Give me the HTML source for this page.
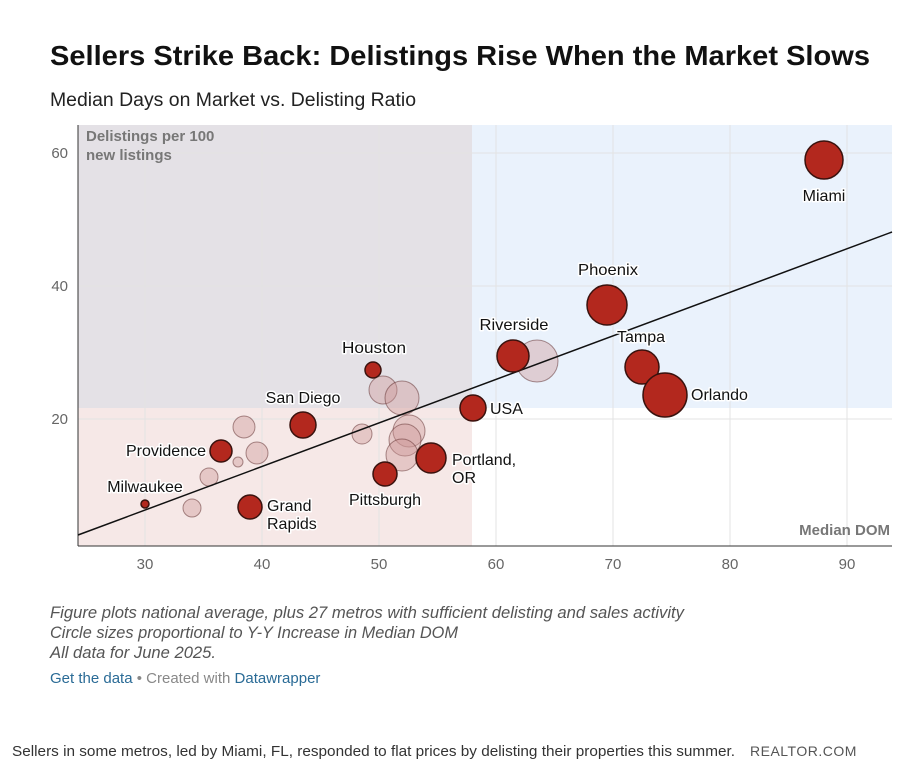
<!DOCTYPE html>
<html><head><meta charset="utf-8"><style>
body{margin:0;background:#fff;width:899px;height:762px;overflow:hidden;font-family:"Liberation Sans",sans-serif;}
</style></head><body>
<svg width="899" height="762" xmlns="http://www.w3.org/2000/svg" font-family="Liberation Sans, sans-serif">
<text x="50" y="65" font-size="28" font-weight="bold" fill="#111" textLength="820" lengthAdjust="spacingAndGlyphs">Sellers Strike Back: Delistings Rise When the Market Slows</text>
<text x="50" y="106" font-size="19" fill="#222" textLength="366" lengthAdjust="spacingAndGlyphs">Median Days on Market vs. Delisting Ratio</text>
<rect x="78" y="125" width="394" height="283" fill="#e4e1e6"/>
<rect x="472" y="125" width="420" height="283" fill="#eaf2fc"/>
<rect x="78" y="408" width="394" height="138" fill="#f6e8e7"/>
<g stroke="#e3e3e3" stroke-width="1">
<line x1="145" y1="125" x2="145" y2="546"/><line x1="262" y1="125" x2="262" y2="546"/><line x1="379" y1="125" x2="379" y2="546"/><line x1="496" y1="125" x2="496" y2="546"/><line x1="613" y1="125" x2="613" y2="546"/><line x1="730" y1="125" x2="730" y2="546"/><line x1="847" y1="125" x2="847" y2="546"/>
<line x1="78" y1="153" x2="892" y2="153"/><line x1="78" y1="286" x2="892" y2="286"/><line x1="78" y1="419" x2="892" y2="419"/>
</g>
<line x1="78" y1="125" x2="78" y2="546" stroke="#333"/>
<line x1="78" y1="546" x2="892" y2="546" stroke="#333"/>
<g font-size="15" fill="#666" text-anchor="end"><text x="68" y="158">60</text><text x="68" y="291">40</text><text x="68" y="424">20</text></g>
<g font-size="15" fill="#666" text-anchor="middle"><text x="145" y="569">30</text><text x="262" y="569">40</text><text x="379" y="569">50</text><text x="496" y="569">60</text><text x="613" y="569">70</text><text x="730" y="569">80</text><text x="847" y="569">90</text></g>
<text x="86" y="141" font-size="15" font-weight="bold" fill="#777">Delistings per 100</text>
<text x="86" y="160" font-size="15" font-weight="bold" fill="#777">new listings</text>
<text x="890" y="535" font-size="15" font-weight="bold" fill="#777" text-anchor="end">Median DOM</text>
<g fill="rgba(205,150,150,0.4)" stroke="rgba(90,40,40,0.5)" stroke-width="1">
<circle cx="537" cy="361" r="21"/><circle cx="383" cy="390" r="14"/><circle cx="402" cy="398" r="17"/>
<circle cx="244" cy="427" r="11"/><circle cx="257" cy="453" r="11"/><circle cx="238" cy="462" r="5"/><circle cx="209" cy="477" r="9"/><circle cx="192" cy="508" r="9"/>
<circle cx="362" cy="434" r="10"/><circle cx="409" cy="431" r="16"/><circle cx="405" cy="440" r="16"/><circle cx="402" cy="455" r="16"/>
</g>
<line x1="78" y1="535" x2="892" y2="232" stroke="#111" stroke-width="1.5"/>
<g fill="#b3281e" stroke="#3a120e" stroke-width="1.5">
<circle cx="824" cy="160" r="19"/><circle cx="607" cy="305" r="20"/><circle cx="642" cy="367" r="17"/><circle cx="665" cy="395" r="22"/>
<circle cx="513" cy="356" r="16"/><circle cx="473" cy="408" r="13"/><circle cx="373" cy="370" r="8"/><circle cx="303" cy="425" r="13"/>
<circle cx="221" cy="451" r="11"/><circle cx="145" cy="504" r="4"/><circle cx="250" cy="507" r="12"/><circle cx="385" cy="474" r="12"/><circle cx="431" cy="458" r="15"/>
</g>
<g font-size="16" fill="#111" stroke="#fff" stroke-width="3" paint-order="stroke" stroke-linejoin="round">
<text x="824" y="201" text-anchor="middle">Miami</text>
<text x="608" y="275" text-anchor="middle" textLength="60" lengthAdjust="spacingAndGlyphs">Phoenix</text>
<text x="617" y="342">Tampa</text>
<text x="691" y="400">Orlando</text>
<text x="514" y="330" text-anchor="middle" textLength="69" lengthAdjust="spacingAndGlyphs">Riverside</text>
<text x="490" y="414">USA</text>
<text x="374" y="353" text-anchor="middle" textLength="64" lengthAdjust="spacingAndGlyphs">Houston</text>
<text x="303" y="403" text-anchor="middle">San Diego</text>
<text x="206" y="456" text-anchor="end">Providence</text>
<text x="145" y="492" text-anchor="middle">Milwaukee</text>
<text x="267" y="511">Grand</text><text x="267" y="529">Rapids</text>
<text x="385" y="505" text-anchor="middle">Pittsburgh</text>
<text x="452" y="465">Portland,</text><text x="452" y="483">OR</text>
</g>
<g font-size="16.5" font-style="italic" fill="#555">
<text x="50" y="618" textLength="634" lengthAdjust="spacingAndGlyphs">Figure plots national average, plus 27 metros with sufficient delisting and sales activity</text>
<text x="50" y="638" textLength="408" lengthAdjust="spacingAndGlyphs">Circle sizes proportional to Y-Y Increase in Median DOM</text>
<text x="50" y="658" textLength="166" lengthAdjust="spacingAndGlyphs">All data for June 2025.</text>
</g>
<text x="50" y="683" font-size="15" fill="#888"><tspan fill="#2a6b96">Get the data</tspan> • Created with <tspan fill="#2a6b96">Datawrapper</tspan></text>
<text x="12" y="756" font-size="14.5" fill="#333" textLength="723" lengthAdjust="spacingAndGlyphs">Sellers in some metros, led by Miami, FL, responded to flat prices by delisting their properties this summer.</text>
<text x="750" y="756" font-size="14" fill="#555" letter-spacing="0.5">REALTOR.COM</text>
</svg>
</body></html>
